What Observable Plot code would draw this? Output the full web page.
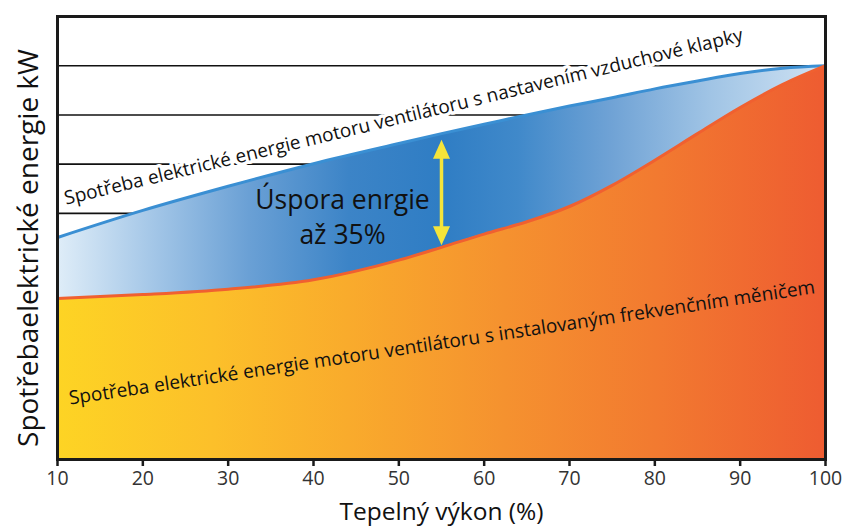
<!DOCTYPE html>
<html>
<head>
<meta charset="utf-8">
<script src="https://cdn.jsdelivr.net/npm/d3@7"></script>
<script src="https://cdn.jsdelivr.net/npm/@observablehq/plot@0.6"></script>
<style>
  html, body { margin: 0; padding: 0; background: #fff; }
  #chart { width: 855px; height: 527px; }
</style>
</head>
<body>
<div id="chart"></div>
<script>
// Heat output (%) sampled along both curves
const output = [10, 20, 30, 40, 50, 55, 60, 65, 70, 75, 80, 85, 90, 95, 100];
// Fan motor consumption with air damper control (kW, relative units)
const damperPower = [4.51, 5.06, 5.55, 6.01, 6.42, 6.62, 6.81, 7.0, 7.18, 7.35, 7.53, 7.69, 7.84, 7.95, 8.0];
// Fan motor consumption with frequency converter
const inverterPower = [3.27, 3.35, 3.46, 3.65, 4.05, 4.31, 4.58, 4.83, 5.14, 5.57, 6.08, 6.62, 7.15, 7.62, 8.0];

const xTicks = [10, 20, 30, 40, 50, 60, 70, 80, 90, 100];
const gridLevels = [5, 6, 7, 8];

// Savings arrow at 55 % output, between the two curves
const arrowX = 55;
const arrowTop = 6.62;
const arrowBottom = 4.31;

const upperLabel = "Spotřeba elektrické energie motoru ventilátoru s nastavením vzduchové klapky";
const lowerLabel = "Spotřeba elektrické energie motoru ventilátoru s instalovaným frekvenčním měničem";
const savingsLines = ["Úspora enrgie", "až 35%"];
const xTitle = "Tepelný výkon (%)";
const yTitle = "Spotřebaelektrické energie kW";

const rows = output.map((x, i) => ({x, upper: damperPower[i], lower: inverterPower[i]}));

// Gradient definitions used by the two filled bands
function gradients() {
  const defs = d3.create("svg:defs");
  const add = (id, stops) => {
    const g = defs.append("linearGradient").attr("id", id)
      .attr("x1", 0).attr("x2", 1).attr("y1", 0).attr("y2", 0);
    for (const [o, c] of stops) g.append("stop").attr("offset", o).attr("stop-color", c);
  };
  add("bandBlue", [
    [0, "#dfedf8"], [0.12, "#a6c8e8"], [0.25, "#6aa0d5"], [0.38, "#3c84c7"],
    [0.5, "#2f7dc4"], [0.6, "#4089ca"], [0.72, "#6fa2d5"], [0.85, "#a0c4e5"], [1, "#cfe2f3"]
  ]);
  add("bandOrange", [
    [0, "#fdd424"], [0.2, "#fcc02a"], [0.38, "#f9ab2c"], [0.58, "#f5922f"],
    [0.78, "#f27a30"], [1, "#ee5c31"]
  ]);
  return defs.node();
}

// Arrow head: tip at the origin, pointing up
const arrowHead = {
  draw(context) {
    context.moveTo(0, 0);
    context.lineTo(-8.5, 19);
    context.lineTo(8.5, 19);
    context.closePath();
  }
};

const chart = Plot.plot({
  width: 855,
  height: 527,
  marginLeft: 57,
  marginRight: 30,
  marginTop: 16,
  marginBottom: 68,
  style: {fontFamily: "'Open Sans', sans-serif", background: "#fff"},
  x: {domain: [10, 100]},
  y: {domain: [0, 9], axis: null},
  marks: [
    gradients,
    Plot.ruleY(gridLevels, {stroke: "#111", strokeWidth: 1.6}),
    Plot.text([upperLabel], {
      x: 50.55, y: 6.96, text: d => d, rotate: -13.6,
      fontSize: 19, fill: "#111", stroke: "white", strokeWidth: 7
    }),
    Plot.areaY(rows, {x: "x", y: "lower", fill: "url(#bandOrange)", curve: "monotone-x"}),
    Plot.areaY(rows, {x: "x", y1: "lower", y2: "upper", fill: "url(#bandBlue)", curve: "monotone-x"}),
    Plot.line(rows, {x: "x", y: "upper", stroke: "#3a8fd3", strokeWidth: 3, curve: "monotone-x"}),
    Plot.line(rows, {x: "x", y: "lower", stroke: "#f06030", strokeWidth: 3, curve: "monotone-x"}),
    Plot.text([lowerLabel], {
      x: 55.05, y: 2.37, text: d => d, rotate: -8.5, fontSize: 19, fill: "#111"
    }),
    Plot.text(savingsLines, {
      x: 43.4, y: (d, i) => [5.26, 4.55][i], text: d => d, fontSize: 26.5, fill: "#111"
    }),
    Plot.ruleX([arrowX], {
      y1: arrowTop, y2: arrowBottom, stroke: "#f5e43a", strokeWidth: 3.5,
      insetTop: 20, insetBottom: 15
    }),
    Plot.dot([arrowTop], {x: arrowX, y: d => d, dy: 6, symbol: arrowHead, fill: "#f5e43a", stroke: null}),
    Plot.dot([arrowBottom], {x: arrowX, y: d => d, dy: -2, symbol: arrowHead, rotate: 180, fill: "#f5e43a", stroke: null}),
    Plot.frame({stroke: "#1a1a1a", strokeWidth: 3}),
    Plot.axisX(xTicks, {
      tickSize: 7, tickPadding: 5, strokeWidth: 2.5, stroke: "#1a1a1a",
      fontSize: 19.5, fill: "#333", label: null
    }),
    Plot.text([xTitle], {
      frameAnchor: "bottom", lineAnchor: "middle", dy: 53,
      text: d => d, fontSize: 24.5, fill: "#111"
    }),
    Plot.text([yTitle], {
      frameAnchor: "left", textAnchor: "middle", lineAnchor: "middle",
      dx: -28, dy: 10, rotate: -90, text: d => d, fontSize: 28, fill: "#111"
    })
  ]
});

document.getElementById("chart").append(chart);
</script>
</body>
</html>
